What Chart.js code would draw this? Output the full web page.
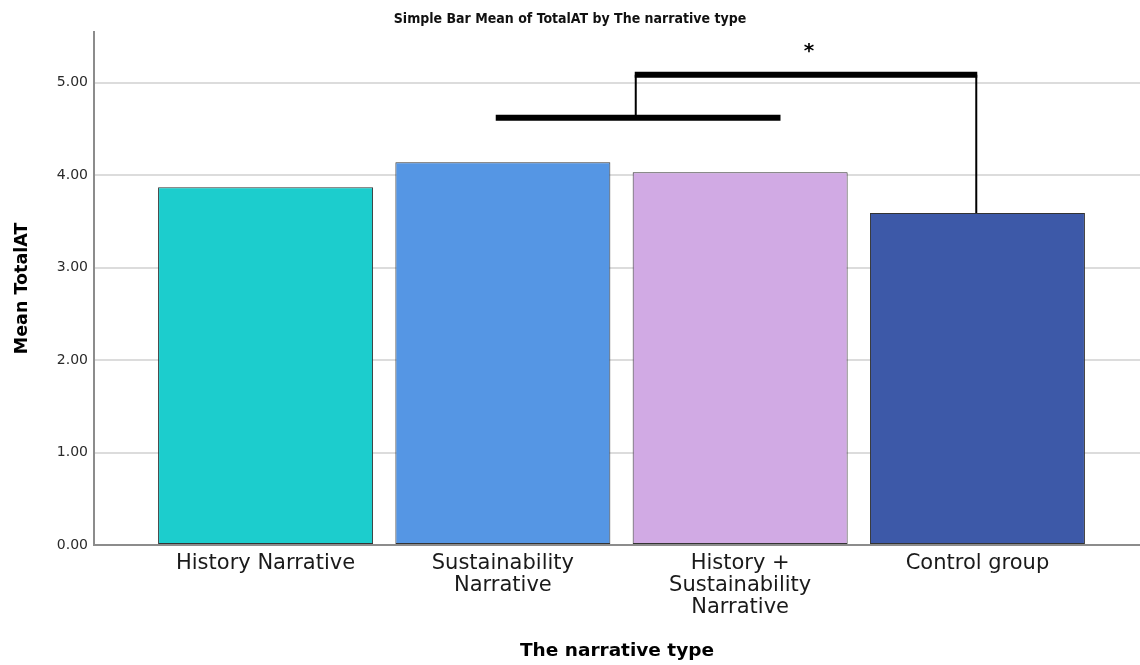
<!DOCTYPE html>
<html>
<head>
<meta charset="utf-8">
<title>Simple Bar Mean of TotalAT by The narrative type</title>
<script src="https://cdn.jsdelivr.net/npm/chart.js@4/dist/chart.umd.min.js"></script>
<style>
  html, body { margin: 0; padding: 0; background: #ffffff; }
  #chart { display: block; }
</style>
</head>
<body>
<canvas id="chart" width="1140" height="665"></canvas>
<script>
// Category labels (multi-line, as printed under the bars)
const categories = [
    ['History Narrative'],
    ['Sustainability', 'Narrative'],
    ['History +', 'Sustainability', 'Narrative'],
    ['Control group']
];

// Mean TotalAT per narrative type
const meanValues = [3.87, 4.14, 4.03, 3.59];

const barColors = ['#1ccdcd', '#5596e4', '#d1aae4', '#3d59a8'];

// Y tick values
const yTicks = [0, 1, 2, 3, 4, 5];

// Significance bracket, in data units: [x from, x to, y]
const pairBracket = [0.97, 2.17, 4.62];
const groupBracket = [1.56, 2.995, 5.085];
// asterisk anchor [x, y]
const starMark = [2.29, 5.28];

// Draw the significance bracket on top of the bars
const bracketPlugin = {
    id: 'bracket',
    afterDatasetsDraw(chart) {
        const ctx = chart.ctx;
        const xs = chart.scales.x;
        const ys = chart.scales.y;
        const px = v => xs.getPixelForValue(v);
        const py = v => ys.getPixelForValue(v);

        ctx.save();
        ctx.strokeStyle = '#000000';
        ctx.lineCap = 'butt';

        // thin vertical drops
        ctx.lineWidth = 2;
        ctx.beginPath();
        ctx.moveTo(px(groupBracket[0]), py(groupBracket[2]));
        ctx.lineTo(px(groupBracket[0]), py(pairBracket[2]));
        ctx.moveTo(px(groupBracket[1]), py(groupBracket[2]));
        ctx.lineTo(px(groupBracket[1]), py(meanValues[3]));
        ctx.stroke();

        // thick horizontal bars
        ctx.lineWidth = 6;
        ctx.beginPath();
        ctx.moveTo(px(pairBracket[0]), py(pairBracket[2]));
        ctx.lineTo(px(pairBracket[1]), py(pairBracket[2]));
        ctx.moveTo(px(groupBracket[0]) - 1, py(groupBracket[2]));
        ctx.lineTo(px(groupBracket[1]) + 1, py(groupBracket[2]));
        ctx.stroke();

        ctx.fillStyle = '#000000';
        ctx.font = 'bold 20px "DejaVu Sans"';
        ctx.textAlign = 'center';
        ctx.textBaseline = 'alphabetic';
        ctx.fillText('*', px(starMark[0]), py(starMark[1]));
        ctx.restore();
    }
};

const ctx = document.getElementById('chart').getContext('2d');
const chart = new Chart(ctx, {
    type: 'bar',
    data: {
        datasets: [{
            data: meanValues.map((v, i) => ({ x: i, y: v })),
            backgroundColor: barColors,
            borderColor: '#333333',
            borderWidth: 1,
            borderSkipped: false,
            barPercentage: 0.906,
            categoryPercentage: 1
        }]
    },
    options: {
        responsive: false,
        devicePixelRatio: 1,
        animation: false,
        layout: { padding: 0 },
        plugins: {
            legend: { display: false },
            tooltip: { enabled: false },
            title: {
                display: true,
                text: 'Simple Bar Mean of TotalAT by The narrative type',
                color: '#111111',
                font: { family: '"DejaVu Sans Condensed", "DejaVu Sans"', size: 14, weight: 'bold' },
                padding: { top: 11, bottom: 4 }
            }
        },
        scales: {
            x: {
                type: 'linear',
                offset: false,
                min: -0.723,
                max: 3.685,
                grid: { display: false, drawTicks: false },
                border: { display: true, color: '#8c8c8c', width: 2 },
                afterBuildTicks: scale => {
                    scale.ticks = categories.map((c, i) => ({ value: i }));
                },
                afterFit: scale => { scale.height = 120; },
                ticks: {
                    autoSkip: false,
                    maxRotation: 0,
                    padding: 8,
                    color: '#1a1a1a',
                    font: { family: '"DejaVu Sans"', size: 21, lineHeight: 1.03 },
                    callback: value => categories[Math.round(value)]
                },
                title: {
                    display: true,
                    text: 'The narrative type',
                    color: '#000000',
                    font: { family: '"DejaVu Sans"', size: 18.5, weight: 'bold' },
                    padding: { top: 0, bottom: 3 }
                }
            },
            y: {
                min: 0,
                max: 5.55,
                afterBuildTicks: scale => {
                    scale.ticks = yTicks.map(v => ({ value: v }));
                },
                afterFit: scale => { scale.width = 94; },
                grid: { color: '#dcdcdc', lineWidth: 2, drawTicks: false },
                border: { display: true, color: '#8c8c8c', width: 2 },
                ticks: {
                    padding: 6,
                    color: '#2a2a2a',
                    font: { family: '"DejaVu Sans"', size: 14 },
                    callback: value => value.toFixed(2)
                },
                title: {
                    display: true,
                    text: 'Mean TotalAT',
                    color: '#000000',
                    font: { family: '"DejaVu Sans"', size: 17.5, weight: 'bold' },
                    padding: { top: 12, bottom: 0 }
                }
            }
        }
    },
    plugins: [bracketPlugin]
});
</script>
</body>
</html>
